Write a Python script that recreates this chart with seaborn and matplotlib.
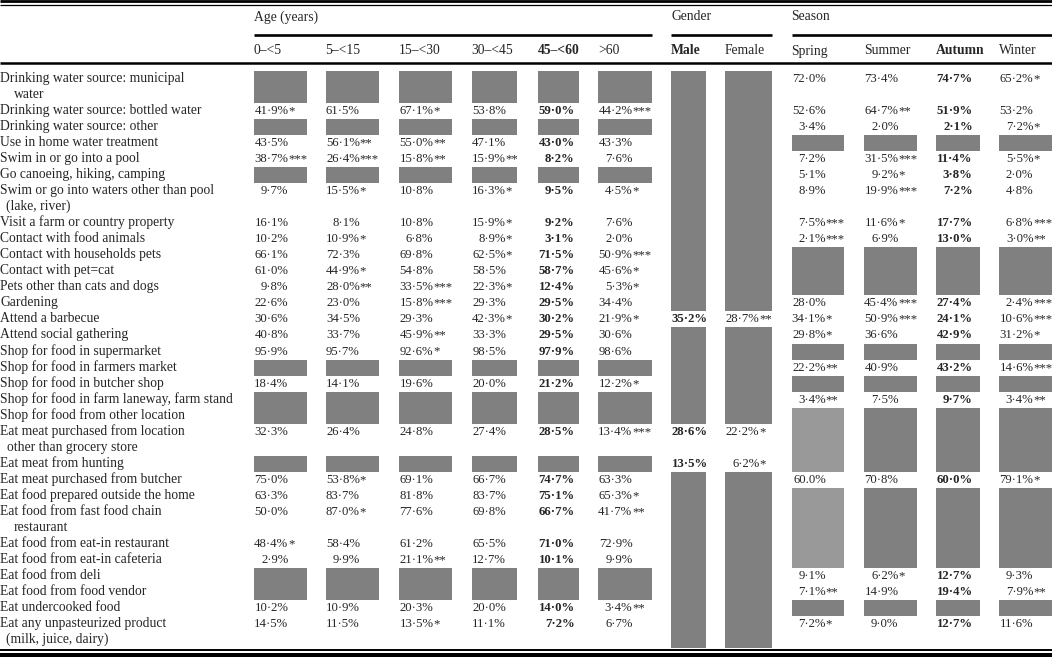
import matplotlib
matplotlib.use("Agg")
import matplotlib.pyplot as plt
import seaborn as sns

# ---------------- data ----------------
row_labels = [
    "Drinking water source: municipal\nwater",
    "Drinking water source: bottled water",
    "Drinking water source: other",
    "Use in home water treatment",
    "Swim in or go into a pool",
    "Go canoeing, hiking, camping",
    "Swim or go into waters other than pool\n(lake, river)",
    "Visit a farm or country property",
    "Contact with food animals",
    "Contact with households pets",
    "Contact with pet=cat",
    "Pets other than cats and dogs",
    "Gardening",
    "Attend a barbecue",
    "Attend social gathering",
    "Shop for food in supermarket",
    "Shop for food in farmers market",
    "Shop for food in butcher shop",
    "Shop for food in farm laneway, farm stand",
    "Shop for food from other location",
    "Eat meat purchased from location\nother than grocery store",
    "Eat meat from hunting",
    "Eat meat purchased from butcher",
    "Eat food prepared outside the home",
    "Eat food from fast food chain\nrestaurant",
    "Eat food from eat-in restaurant",
    "Eat food from eat-in cafeteria",
    "Eat food from deli",
    "Eat food from food vendor",
    "Eat undercooked food",
    "Eat any unpasteurized product\n(milk, juice, dairy)",
]

N = None
age_0_5 = [N, "41·9%*", N, "43·5%", "38·7%***", N, "9·7%", "16·1%", "10·2%", "66·1%",
           "61·0%", "9·8%", "22·6%", "30·6%", "40·8%", "95·9%", N, "18·4%", N, N,
           "32·3%", N, "75·0%", "63·3%", "50·0%", "48·4%*", "2·9%", N, N, "10·2%", "14·5%"]
age_5_15 = [N, "61·5%", N, "56·1%**", "26·4%***", N, "15·5%*", "8·1%", "10·9%*", "72·3%",
            "44·9%*", "28·0%**", "23·0%", "34·5%", "33·7%", "95·7%", N, "14·1%", N, N,
            "26·4%", N, "53·8%*", "83·7%", "87·0%*", "58·4%", "9·9%", N, N, "10·9%", "11·5%"]
age_15_30 = [N, "67·1%*", N, "55·0%**", "15·8%**", N, "10·8%", "10·8%", "6·8%", "69·8%",
             "54·8%", "33·5%***", "15·8%***", "29·3%", "45·9%**", "92·6%*", N, "19·6%", N, N,
             "24·8%", N, "69·1%", "81·8%", "77·6%", "61·2%", "21·1%**", N, N, "20·3%", "13·5%*"]
age_30_45 = [N, "53·8%", N, "47·1%", "15·9%**", N, "16·3%*", "15·9%*", "8·9%*", "62·5%*",
             "58·5%", "22·3%*", "29·3%", "42·3%*", "33·3%", "98·5%", N, "20·0%", N, N,
             "27·4%", N, "66·7%", "83·7%", "69·8%", "65·5%", "12·7%", N, N, "20·0%", "11·1%"]
age_45_60 = [N, "59·0%", N, "43·0%", "8·2%", N, "9·5%", "9·2%", "3·1%", "71·5%",
             "58·7%", "12·4%", "29·5%", "30·2%", "29·5%", "97·9%", N, "21·2%", N, N,
             "28·5%", N, "74·7%", "75·1%", "66·7%", "71·0%", "10·1%", N, N, "14·0%", "7·2%"]
age_60_plus = [N, "44·2%***", N, "43·3%", "7·6%", N, "4·5%*", "7·6%", "2·0%", "50·9%***",
               "45·6%*", "5·3%*", "34·4%", "21·9%*", "30·6%", "98·6%", N, "12·2%*", N, N,
               "13·4%***", N, "63·3%", "65·3%*", "41·7%**", "72·9%", "9·9%", N, N, "3·4%**", "6·7%"]
male = [N] * 13 + ["35·2%"] + [N] * 6 + ["28·6%", "13·5%"] + [N] * 9
female = [N] * 13 + ["28·7%**"] + [N] * 6 + ["22·2%*", "6·2%*"] + [N] * 9
spring = ["72·0%", "52·6%", "3·4%", N, "7·2%", "5·1%", "8·9%", "7·5%***", "2·1%***", N,
          N, N, "28·0%", "34·1%*", "29·8%*", N, "22·2%**", N, "3·4%**", N,
          N, N, "60.0%", N, N, N, N, "9·1%", "7·1%**", N, "7·2%*"]
summer = ["73·4%", "64·7%**", "2·0%", N, "31·5%***", "9·2%*", "19·9%***", "11·6%*", "6·9%", N,
          N, N, "45·4%***", "50·9%***", "36·6%", N, "40·9%", N, "7·5%", N,
          N, N, "70·8%", N, N, N, N, "6·2%*", "14·9%", N, "9·0%"]
autumn = ["74·7%", "51·9%", "2·1%", N, "11·4%", "3·8%", "7·2%", "17·7%", "13·0%", N,
          N, N, "27·4%", "24·1%", "42·9%", N, "43·2%", N, "9·7%", N,
          N, N, "60·0%", N, N, N, N, "12·7%", "19·4%", N, "12·7%"]
winter = ["65·2%*", "53·2%", "7·2%*", N, "5·5%*", "2·0%", "4·8%", "6·8%***", "3·0%**", N,
          N, N, "2·4%***", "10·6%***", "31·2%*", N, "14·6%***", N, "3·4%**", N,
          N, N, "79·1%*", N, N, N, N, "9·3%", "7·9%**", N, "11·6%"]

col_headers = ["0–<5", "5–<15", "15–<30", "30–<45", "45–<60", ">60",
               "Male", "Female", "Spring", "Summer", "Autumn", "Winter"]
group_headers = ["Age (years)", "Gender", "Season"]
bold_cols = ["45–<60", "Male", "Autumn"]
spring_light_rows = [19, 20, 21, 23, 24, 25, 26]

columns = [age_0_5, age_5_15, age_15_30, age_30_45, age_45_60, age_60_plus,
           male, female, spring, summer, autumn, winter]

# ---------------- layout ----------------
sns.set_theme(style="white")
plt.rcParams["font.family"] = ["Liberation Serif", "DejaVu Serif"]
FS = 9.8
FS_VAL = 9.2

col_left = [254, 325.5, 399, 471.6, 538, 598, 671, 725, 791.5, 864, 936, 999]
col_right = [306.6, 378.6, 452, 517.2, 578.7, 651.7, 706, 772, 844, 917, 980, 1052]
group_span = [(254, 651.7), (671, 772), (791.5, 1052)]
cont_indent = {"water": 14, "(lake, river)": 6, "other than grocery store": 7,
               "restaurant": 14, "(milk, juice, dairy)": 6}

LINE0 = 79.0
PITCH = 16.03
HALF = 8.0
DARK = "#808080"
LIGHT = "#999999"

fig = plt.figure(figsize=(10.52, 6.57), dpi=100)
ax = fig.add_axes([0, 0, 1, 1])
ax.set_xlim(0, 1052)
ax.set_ylim(657, 0)
ax.axis("off")

# measure width of a two-digit value so values align on the percent sign
renderer = fig.canvas.get_renderer()
numw = {}
for wgt in ("normal", "bold"):
    t = ax.text(0, 0, "00·0%", fontsize=FS_VAL, fontweight=wgt)
    numw[wgt] = t.get_window_extent(renderer).width
    t.remove()

# row line indices
row_first = []
row_nlines = []
k = 0
for lab in row_labels:
    n = lab.count("\n") + 1
    row_first.append(k)
    row_nlines.append(n)
    k += n

def ly(line):
    return LINE0 + PITCH * line

# row labels
for i, lab in enumerate(row_labels):
    parts = lab.split("\n")
    for j, p in enumerate(parts):
        x = 0.5 if j == 0 else cont_indent.get(p, 8)
        ax.text(x, ly(row_first[i] + j) + 3.0, p, ha="left", va="baseline", fontsize=FS)

# grey blocks (merged runs) and values
for c, vals in enumerate(columns):
    name = col_headers[c]
    w = col_right[c] - col_left[c]
    weight = "bold" if name in bold_cols else "normal"
    run_start = None
    run_shade = None
    runs = []
    for i, v in enumerate(vals + ["END"]):
        shade = None
        if v is None:
            shade = LIGHT if (name == "Spring" and i in spring_light_rows) else DARK
        if shade != run_shade:
            if run_shade is not None:
                runs.append((run_start, i - 1, run_shade))
            run_start = i
            run_shade = shade
    for a, b, shade in runs:
        top = ly(row_first[a]) - HALF
        bot = ly(row_first[b] + row_nlines[b] - 1) + HALF
        ax.bar(col_left[c], bot - top, width=w, bottom=top, align="edge",
               color=shade, linewidth=0)
    for i, v in enumerate(vals):
        if v is None:
            continue
        num = v.rstrip("*")
        stars = v[len(num):]
        y = ly(row_first[i]) + 3.0
        xr = col_left[c] + numw[weight] + 0.5
        ax.text(xr, y, num, ha="right", va="baseline", fontsize=FS_VAL, fontweight=weight)
        if stars:
            ax.text(xr - 0.3, y + 0.3, stars, ha="left", va="baseline", fontsize=FS_VAL,
                    fontweight=weight)

# headers
for g, (x0, x1) in zip(group_headers, group_span):
    ax.text(x0, 20.5, g, ha="left", va="baseline", fontsize=FS)
    ax.plot([x0, x1], [34.7, 34.7], color="black", lw=1.9, solid_capstyle="butt")
for c, h in enumerate(col_headers):
    ax.text(col_left[c], 54.5, h, ha="left", va="baseline", fontsize=FS,
            fontweight="bold" if h in bold_cols else "normal")

# rules
ax.plot([0, 1052], [1.3, 1.3], color="black", lw=2.0, solid_capstyle="butt")
ax.plot([0, 1052], [4.7, 4.7], color="black", lw=0.9, solid_capstyle="butt")
ax.plot([0, 1052], [63.0, 63.0], color="black", lw=1.8, solid_capstyle="butt")
ax.plot([0, 1052], [650.0, 650.0], color="black", lw=1.4, solid_capstyle="butt")
ax.plot([0, 1052], [655.0, 655.0], color="black", lw=2.9, solid_capstyle="butt")

fig.savefig("out.png", dpi=100)
